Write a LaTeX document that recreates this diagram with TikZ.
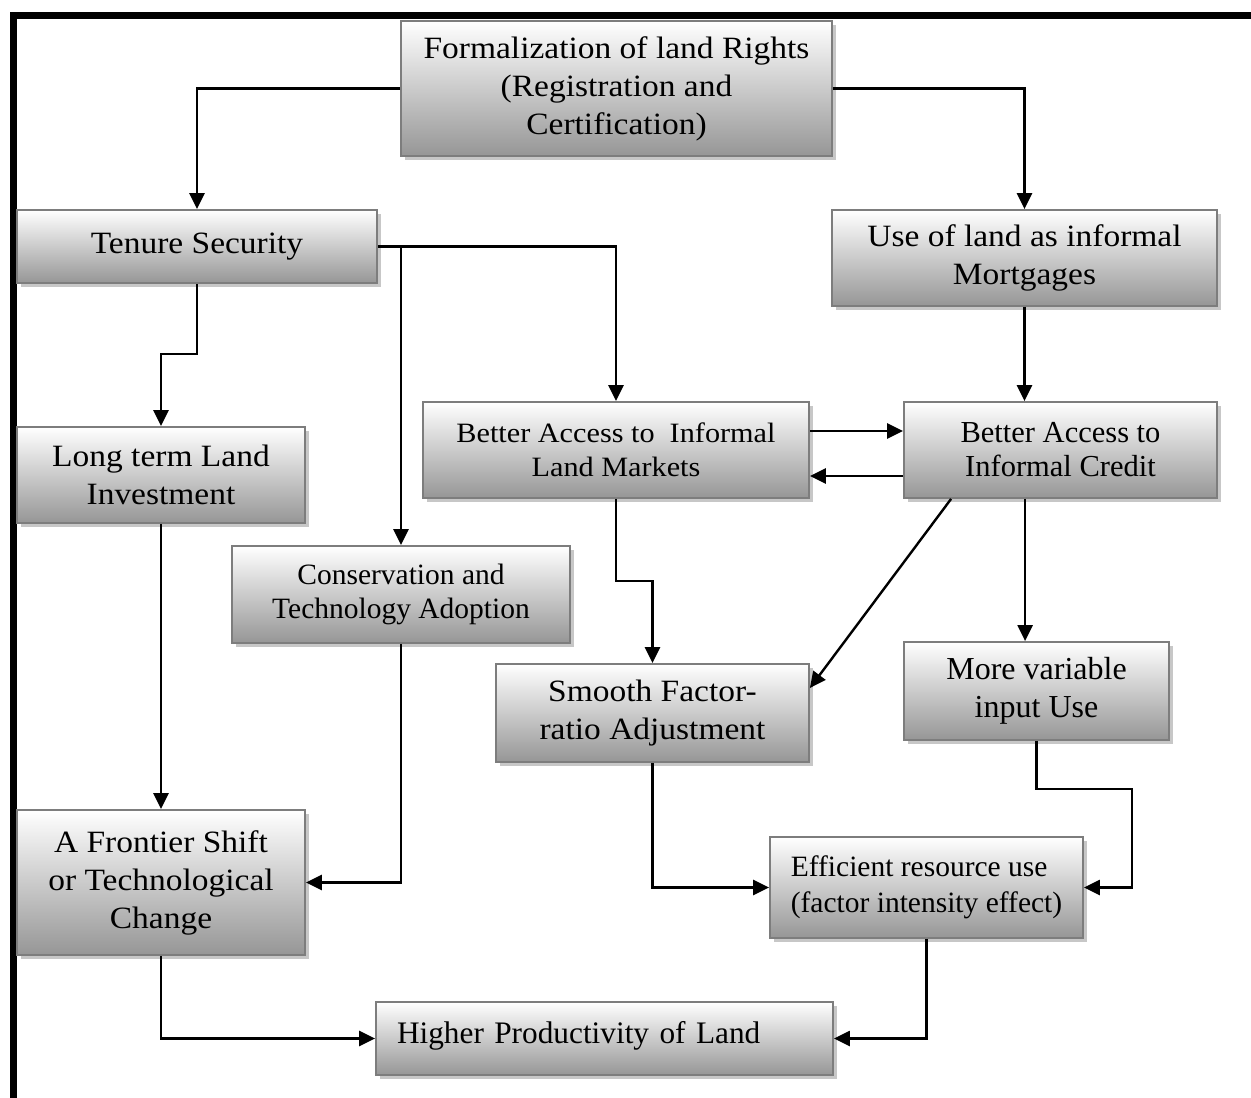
\documentclass[tikz,border=0pt]{standalone}
\usepackage{fontspec}
\setmainfont{Liberation Serif}
\newfontfamily\cambriaish[FakeStretch=1.08]{Liberation Serif}
\usetikzlibrary{arrows.meta,shadows,calc}
\definecolor{boxedge}{RGB}{125,125,125}
\definecolor{boxbot}{RGB}{150,150,150}
\definecolor{boxmid}{RGB}{215,215,215}
\tikzset{
  box/.style={draw=boxedge, line width=1.8pt, top color=white, middle color=boxmid, bottom color=boxbot,
    drop shadow={shadow xshift=4pt, shadow yshift=-4pt, fill=black, opacity=0.22},
    inner sep=0pt, align=center},
  cam/.style={font=\cambriaish\fontsize{31}{38}\selectfont},
  tms/.style={font=\fontsize{29.5}{35}\selectfont},
  arr/.style={line width=2.4pt, -{Triangle[length=16pt,width=15pt]}},
}
\begin{document}
\begin{tikzpicture}[x=1pt,y=-1pt]
\useasboundingbox (0,0) rectangle (1251,1098);
\fill[white] (0,0) rectangle (1251,1098);
\draw[line width=7pt] (13.5,1098) -- (13.5,15.5) -- (1251,15.5);

\node[box,cam,minimum width=431pt,minimum height=135pt] (form) at (616.5,88.5)
  {Formalization of land Rights\\(Registration and\\Certification)};
\node[box,cam,minimum width=360pt,minimum height=73pt] (ten) at (197,246.5) {Tenure Security};
\node[box,cam,minimum width=385pt,minimum height=96pt] (mort) at (1024.5,258) {Use of land as informal\\Mortgages};
\node[box,cam,minimum width=288pt,minimum height=96pt] (ltli) at (161,475) {Long term Land\\Investment};
\node[box,cam,font=\cambriaish\fontsize{28}{34}\selectfont,minimum width=386pt,minimum height=96pt] (lm) at (616,450) {Better Access to~~Informal\\Land Markets};
\node[box,tms,font=\fontsize{30.5}{34}\selectfont,minimum width=313pt,minimum height=96pt] (cred) at (1060.5,450) {Better Access to\\Informal Credit};
\node[box,tms,font=\fontsize{29.5}{34}\selectfont,minimum width=338pt,minimum height=97pt] (cons) at (401,594.5) {Conservation and\\Technology Adoption};
\node[box,cam,minimum width=313pt,minimum height=98pt] (smooth) at (652.5,713) {Smooth Factor-\\ratio Adjustment};
\node[box,tms,font=\fontsize{32}{38}\selectfont,minimum width=265pt,minimum height=98pt] (more) at (1036.5,691) {More variable\\input Use};
\node[box,cam,minimum width=288pt,minimum height=145pt] (front) at (161,882.5) {A Frontier Shift\\or Technological\\Change};
\node[box,tms,align=left,font=\fontsize{29.5}{36}\selectfont,minimum width=313pt,minimum height=101pt] (eff) at (926.5,887.5) {Efficient resource use\\(factor intensity effect)};
\node[box,minimum width=457pt,minimum height=73pt] (high) at (604.5,1038.5) {};
\node[font=\fontsize{31.3}{36}\selectfont,text width=415pt,align=left,inner sep=0pt] (hightxt) at ($(high.center)+(0,-3)$) {Higher Productivity of Land};

\coordinate (credb) at ($(cred.south west)+(122,0)$);
\coordinate (credd) at ($(cred.south west)+(48,0)$);
\coordinate (effr) at ($(eff.east)+(48,0)$);

\draw[arr] (form.west) -| (ten.north);
\draw[arr] (form.east) -| (mort.north);
\draw[arr] (ten.south) -- ++(0,70) -| (ltli.north);
\draw[arr] (ten.east) -| (lm.north);
\draw[arr] (ten.east -| cons.north) -- (cons.north);
\draw[arr] (mort.south) -- (mort.south |- cred.north);
\draw[arr] ($(lm.east)+(0,-19)$) -- ($(cred.west)+(0,-19)$);
\draw[arr] ($(cred.west)+(0,26)$) -- ($(lm.east)+(0,26)$);
\draw[arr] (lm.south) -- ++(0,82) -| (smooth.north);
\draw[arr] (credd) -- ($(smooth.east)+(0,-25)$);
\draw[arr] (credb) -- (credb |- more.north);
\draw[arr] (ltli.south) -- (front.north);
\draw[arr] (cons.south) |- (front.east);
\draw[arr] (smooth.south) |- (eff.west);
\draw[arr] (more.south) -- ++(0,48) -| (effr) -- (eff.east);
\draw[arr] (front.south) |- (high.west);
\draw[arr] (eff.south) |- (high.east);
\end{tikzpicture}
\end{document}
